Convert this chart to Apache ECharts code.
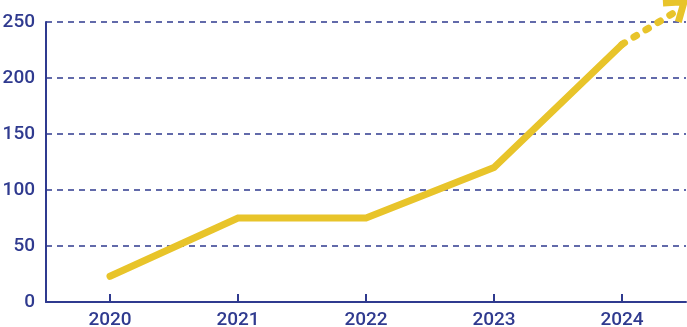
<!DOCTYPE html>
<html>
<head>
<meta charset="utf-8">
<script src="https://cdn.jsdelivr.net/npm/echarts@6/dist/echarts.min.js"></script>
<style>
html,body{margin:0;padding:0;background:#fff;}
#chart{width:687px;height:327px;}
</style>
</head>
<body>
<div id="chart"></div>
<script>
const categories = ['2020', '2021', '2022', '2023', '2024'];
const values = [23, 75, 75, 120, 230];
// projected dashed continuation (category index, value)
const projection = [[4, 230], [4.43, 260]];
// arrow head (category index, value)
const arrowHead = [[4.32, 267], [4.485, 268], [4.44, 250]];
const yTicks = [0, 50, 100, 150, 200, 250];

const blue = '#2F3A8F';
const yellow = '#E8C42A';

const chart = echarts.init(document.getElementById('chart'));
chart.setOption({
  animation: false,
  grid: { left: 46, right: 1, top: 22, bottom: 25, containLabel: false, outerBoundsMode: 'none' },
  xAxis: [
    {
      type: 'category',
      data: categories,
      boundaryGap: true,
      axisLine: { show: true, onZero: false, lineStyle: { color: blue, width: 2 } },
      axisTick: { show: true, inside: true, length: 8, alignWithLabel: true, lineStyle: { color: blue, width: 2 } },
      axisLabel: { color: blue, fontFamily: 'Roboto', fontWeight: 500, fontSize: 19, margin: 9 },
      splitLine: { show: false }
    },
    {
      type: 'value',
      min: -0.5,
      max: 4.5,
      show: false
    }
  ],
  yAxis: {
    type: 'value',
    min: 0,
    max: 250,
    interval: 50,
    axisLine: { show: true, onZero: false, lineStyle: { color: blue, width: 2 } },
    axisTick: { show: false },
    axisLabel: {
      color: blue, fontFamily: 'Roboto', fontWeight: 500, fontSize: 19, margin: 11,
      formatter: function (v) { return yTicks.indexOf(v) >= 0 ? String(v) : ''; }
    },
    splitLine: { show: true, lineStyle: { color: blue, width: 1.5, type: [6, 5] } }
  },
  series: [
    {
      type: 'line',
      data: values,
      symbol: 'none',
      lineStyle: { color: yellow, width: 7, cap: 'round', join: 'miter' },
      z: 3
    },
    {
      type: 'line',
      xAxisIndex: 1,
      data: projection,
      symbol: 'none',
      clip: false,
      lineStyle: { color: yellow, width: 7, type: [3, 11], cap: 'round' },
      z: 3
    },
    {
      type: 'line',
      xAxisIndex: 1,
      data: arrowHead,
      symbol: 'none',
      clip: false,
      lineStyle: { color: yellow, width: 7, cap: 'butt', join: 'miter' },
      z: 3
    }
  ]
});
</script>
</body>
</html>
